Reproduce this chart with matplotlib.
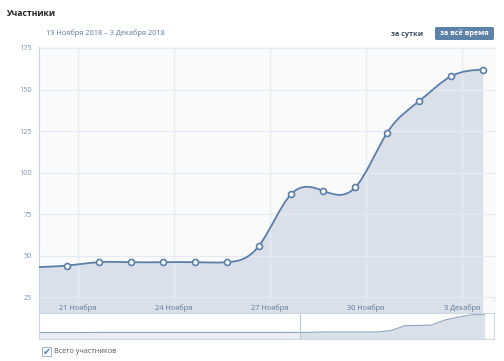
import matplotlib
matplotlib.use("Agg")
import matplotlib.pyplot as plt
from matplotlib.path import Path
from matplotlib.patches import PathPatch, Rectangle, FancyBboxPatch
import numpy as np

plt.rcParams['font.family'] = ['Open Sans', 'DejaVu Sans']

# --- data -------------------------------------------------------------
# days counted as day-of-November (1 Dec = 31), points sit ~16h after midnight
day_offset = 0.66
days = [19, 20, 21, 22, 23, 24, 25, 26, 27, 28, 29, 30, 31, 32, 33]
members = [43, 44, 46, 46, 46, 46, 46, 56, 87, 89, 91, 124, 143, 158, 162]

# earlier history shown only in the navigator strip
hist_days = [-1, 0, 1, 2, 3, 4, 5, 6, 7, 8, 9, 10, 11, 12, 13, 14, 15, 16, 17, 18]
hist_members = [42, 42, 42, 42, 42, 43, 43, 43, 43, 43, 43, 43, 43, 43, 43, 43, 43, 43, 43, 43]

tick_days = [21, 24, 27, 30, 33]
tick_labels = ['21 Ноября', '24 Ноября', '27 Ноября', '30 Ноября', '3 Декабря']
y_ticks = [25, 50, 75, 100, 125, 150, 175]

line_c = '#5b7fa8'
fill_c = '#d9e0ea'
grid_c = '#e6ebf1'
label_c = '#7f93ab'


def spline_path(xs, ys, base=None):
    """natural cubic spline through the points, as bezier path"""
    x = np.asarray(xs, float)
    y = np.asarray(ys, float)
    n = len(x)
    h = np.diff(x)
    A = np.zeros((n, n))
    r = np.zeros(n)
    A[0, 0] = A[-1, -1] = 1
    for i in range(1, n - 1):
        A[i, i - 1] = h[i - 1]
        A[i, i] = 2 * (h[i - 1] + h[i])
        A[i, i + 1] = h[i]
        r[i] = 6 * ((y[i + 1] - y[i]) / h[i] - (y[i] - y[i - 1]) / h[i - 1])
    M = np.linalg.solve(A, r)
    m = np.zeros(n)
    for i in range(n - 1):
        m[i] = (y[i + 1] - y[i]) / h[i] - h[i] * (2 * M[i] + M[i + 1]) / 6
    m[-1] = (y[-1] - y[-2]) / h[-1] + h[-1] * (M[-2] + 2 * M[-1]) / 6

    verts, codes = [], []
    if base is not None:
        verts += [(x[0], base), (x[0], y[0])]
        codes += [Path.MOVETO, Path.LINETO]
    else:
        verts.append((x[0], y[0]))
        codes.append(Path.MOVETO)
    for i in range(n - 1):
        d = h[i] / 3
        verts += [(x[i] + d, y[i] + m[i] * d),
                  (x[i + 1] - d, y[i + 1] - m[i + 1] * d),
                  (x[i + 1], y[i + 1])]
        codes += [Path.CURVE4] * 3
    if base is not None:
        verts += [(x[-1], base), (x[0], base)]
        codes += [Path.LINETO, Path.CLOSEPOLY]
    return Path(verts, codes)


xs = [d + day_offset for d in days]

fig = plt.figure(figsize=(5.04, 3.61), dpi=100)
W, H = 504, 361


def fx(p):
    return p / W


def fy(p):
    return 1 - p / H


# --- main chart -------------------------------------------------------
ax = fig.add_axes([fx(39), fy(313), fx(496 - 39), (313 - 47) / H])
ax.set_facecolor('#fafafa')
ax.set_xlim(19.78, 34.06)
ax.set_ylim(15.4, 175.6)

ax.add_patch(PathPatch(spline_path(xs, members, base=0), facecolor=fill_c,
                       edgecolor='none', zorder=2))
ax.add_patch(PathPatch(spline_path(xs, members), facecolor='none',
                       edgecolor=line_c, lw=1.3, zorder=3))
ax.plot(xs[1:], members[1:], 'o', ms=4.3, mfc='white', mec=line_c, mew=1.2,
        zorder=4, clip_on=False)

ax.set_yticks(y_ticks)
ax.set_xticks(tick_days)
ax.set_xticklabels(tick_labels)
ax.set_xticks(range(20, 35), minor=True)
ax.grid(True, which='major', color=grid_c, lw=0.9)
ax.set_axisbelow(False)
for s in ['top', 'right']:
    ax.spines[s].set_visible(False)
ax.spines['left'].set_color('#c9d3de')
ax.spines['bottom'].set_position(('data', 25))
ax.spines['bottom'].set_visible(False)
ax.tick_params(axis='y', length=0, labelsize=5.3, labelcolor=label_c, pad=5)
ax.tick_params(axis='x', which='both', direction='out', length=3,
               color='#e3e8ef', labelsize=5.3, labelcolor='#5f7897', pad=2)

# --- navigator --------------------------------------------------------
nav = fig.add_axes([fx(39), fy(339), fx(494 - 39), (339 - 313) / H])
nav_x = [d + day_offset for d in hist_days] + xs
nav_y = hist_members + members
nav.set_xlim(0.18, 34.36)
nav.set_ylim(0, 170)
nav.fill_between(nav_x, nav_y, 0, color=fill_c, lw=0)
nav.plot(nav_x, nav_y, color='#8ea5c0', lw=0.8)
nav.axvspan(0.18, 19.78, color='white', alpha=0.45, lw=0)
nav.axvline(19.78, color='#b8c5d4', lw=0.8)
nav.set_xticks([])
nav.set_yticks([])
for s in nav.spines.values():
    s.set_color('#cfd8e2')
    s.set_linewidth(0.8)

# --- header texts -----------------------------------------------------
fig.text(fx(6), fy(14), 'Участники', fontsize=6.2, fontweight='bold',
         color='#222222', va='center', ha='left')
fig.text(fx(46), fy(33), '19 Ноября 2018 – 3 Декабря 2018', fontsize=5.3,
         color='#5f7897', va='center', ha='left')
fig.text(fx(407.5), fy(34), 'за сутки', fontsize=5.2, fontweight='bold',
         color='#3c4a5c', va='center', ha='center')
fig.patches.append(FancyBboxPatch((fx(435), fy(40)), fx(59), 13 / H,
                                  boxstyle='round,pad=0,rounding_size=0.004',
                                  transform=fig.transFigure,
                                  facecolor='#5e81a8', edgecolor='none'))
fig.text(fx(464.5), fy(33.5), 'за всё время', fontsize=5.2, fontweight='bold',
         color='white', va='center', ha='center')

# --- legend checkbox --------------------------------------------------
fig.patches.append(Rectangle((fx(42), fy(356)), fx(9), 9 / H,
                             transform=fig.transFigure, facecolor='white',
                             edgecolor='#aab8c8', lw=0.8))
fig.text(fx(46.5), fy(351.5), '✔', fontsize=7, color='#5e81a8',
         va='center', ha='center', family=['DejaVu Sans'])
fig.text(fx(54), fy(351.5), 'Всего участников', fontsize=5.2, color='#555555',
         va='center', ha='left')

fig.savefig('out.png', dpi=100, facecolor='white')
